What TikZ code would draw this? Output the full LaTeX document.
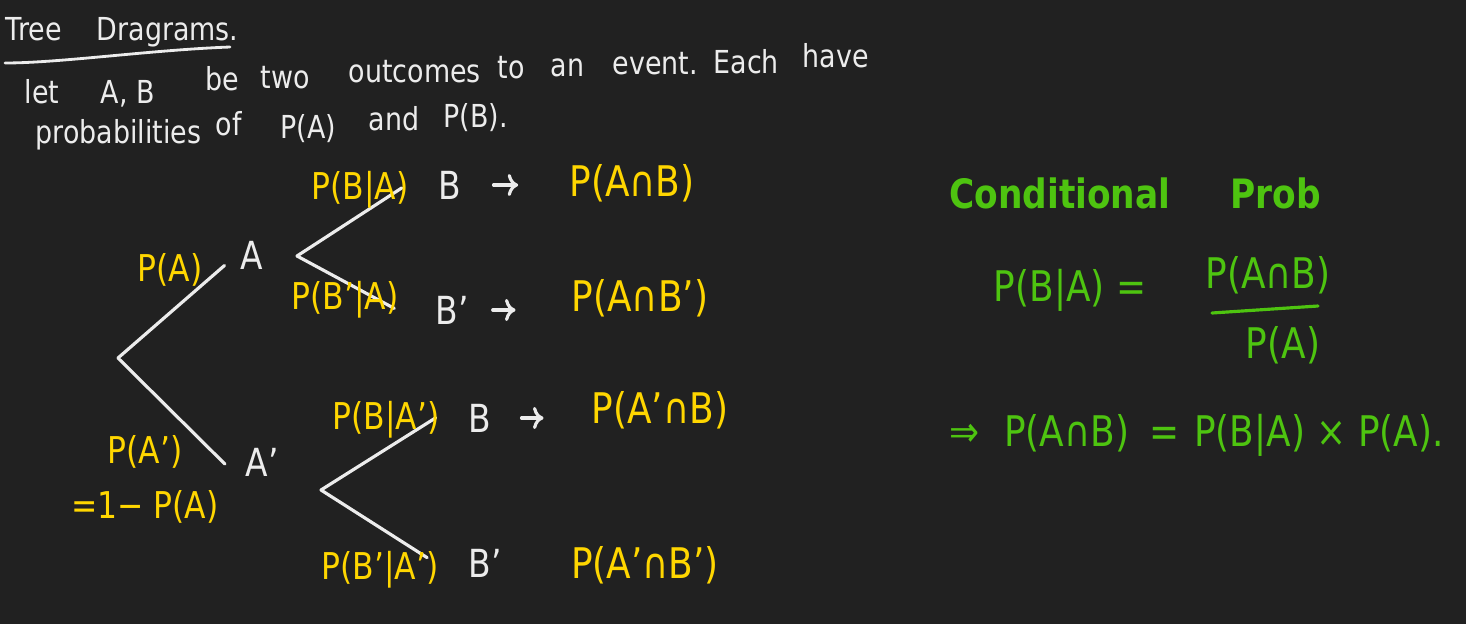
\documentclass[tikz,border=0pt]{standalone}
\usepackage{fontspec}
\setmainfont{DejaVu Sans}[FakeStretch=0.85]
\usetikzlibrary{arrows.meta}
\definecolor{board}{RGB}{33,33,33}
\definecolor{chalk}{RGB}{236,236,236}
\definecolor{marker}{RGB}{255,214,0}
\definecolor{leaf}{RGB}{78,196,16}

\begin{document}
\begin{tikzpicture}[x=0.01cm, y=-0.01cm,
    note/.style={text=chalk, font=\fontsize{9}{10}\selectfont, inner sep=0pt, anchor=base west},
    event/.style={text=chalk, font=\fontsize{11}{12}\selectfont, inner sep=1pt},
    prob/.style={text=marker, font=\fontsize{10.5}{12}\selectfont, inner sep=1pt},
    joint/.style={text=marker, font=\fontsize{12}{14}\selectfont, inner sep=1pt},
    formula/.style={text=leaf, font=\fontsize{12}{14}\selectfont, inner sep=1pt},
    branch/.style={draw=chalk, line width=0.9pt, line cap=round},
    leads/.style={draw=chalk, line width=0.9pt, line cap=round, -{To[length=3pt]}}
]

\fill[board] (0,0) rectangle (1466,624);

% heading and the two lines of text
\node[note] (title) at (5,40) {Tree\hspace{0.35cm}Dragrams.};
\draw[chalk, line width=0.8pt, line cap=round] (5,63) .. controls (60,63) and (150,50) .. (230,47);

\node[note] (w1) at (24,103) {let};
\node[note] (w2) at (100,103) {A, B};
\node[note] (w3) at (205,90) {be};
\node[note] (w4) at (260,88) {two};
\node[note] (w5) at (348,82) {outcomes};
\node[note] (w6) at (497,78) {to};
\node[note] (w7) at (550,76) {an};
\node[note] (w8) at (612,74) {event.};
\node[note] (w9) at (713,73) {Each};
\node[note] (w10) at (802,67) {have};

\node[note] (v1) at (35,143) {probabilities};
\node[note] (v2) at (215,135) {of};
\node[note] (v3) at (280,138) {P(A)};
\node[note] (v4) at (368,130) {and};
\node[note] (v5) at (443,127) {P(B).};

% tree
\coordinate (root) at (118,358);
\node[event] (A) at (252,255) {A};
\node[event] (Ac) at (262,462) {A'};
\coordinate (Afork) at (297,256);
\coordinate (Acfork) at (321,490);

\node[event] (AB) at (450,185) {B};
\node[event] (ABc) at (452,310) {B'};
\node[event] (AcB) at (480,418) {B};
\node[event] (AcBc) at (485,563) {B'};

\draw[branch] (root) -- (A.west) [shorten >=0.16cm];
\draw[branch] (root) -- (Ac.south west) [shorten >=0.23cm];
\draw[branch] (Afork) -- (AB.north west) [shorten >=0.39cm];
\draw[branch] (Afork) -- (ABc.south west) [shorten >=0.42cm];
\draw[branch] (Acfork) -- (AcB.north west) [shorten >=0.34cm];
\draw[branch] (Acfork) -- (AcBc.south west) [shorten >=0.44cm];

\node[prob] (pA) at (170,270) {P(A)};
\node[prob] (pAc) at (145,452) {P(A')};
\node[prob] (pAc2) at (145,507) {=1− P(A)};
\node[prob] (pBA) at (360,190) {P(B|A)};
\node[prob] (pBcA) at (345,300) {P(B'|A)};
\node[prob] (pBAc) at (386,420) {P(B|A')};
\node[prob] (pBcAc) at (380,570) {P(B'|A')};

\node[joint] (pAB) at (632,183) {P(A∩B)};
\node[joint] (pABc) at (640,298) {P(A∩B')};
\node[joint] (pAcB) at (660,410) {P(A'∩B)};
\node[joint] (pAcBc) at (645,565) {P(A'∩B')};

\draw[leads] (AB.east) -- (AB.east -| pAB.west) [shorten <=0.28cm, shorten >=0.47cm];
\draw[leads] (ABc.east) -- (ABc.east -| pABc.west) [shorten <=0.2cm, shorten >=0.52cm];
\draw[leads] (AcB.east) -- (AcB.east -| pAcB.west) [shorten <=0.26cm, shorten >=0.44cm];

% conditional probability
\node[formula, font=\fontsize{11.5}{14}\bfseries] (cond) at (1135,193) {Conditional\hspace{0.6cm}Prob};
\node[formula] (lhs) at (1070,290) {P(B|A) =};
\node[formula] (num) at (1268,275) {P(A∩B)};
\node[formula] (den) at (1283,345) {P(A)};
\draw[leaf, line width=0.9pt, line cap=round] (1212,313) -- (1318,306);
\node[formula, anchor=west] (rule) at (945,435) {⇒\hspace{0.25cm}P(A∩B)\hspace{0.2cm}=\hspace{0.15cm}P(B|A) × P(A).};

\end{tikzpicture}
\end{document}
